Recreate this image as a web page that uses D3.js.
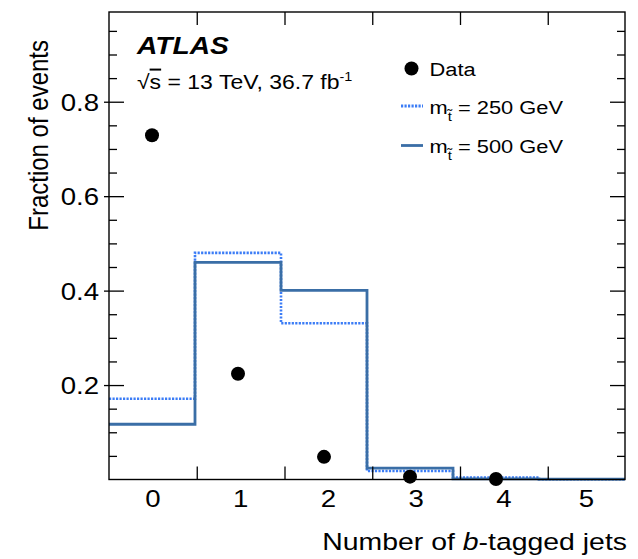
<!DOCTYPE html>
<html><head><meta charset="utf-8">
<script src="https://cdn.jsdelivr.net/npm/d3@7/dist/d3.min.js"></script>
<style>body{margin:0;background:#fff} svg{display:block}</style>
</head><body><svg id="c" width="638" height="559"></svg>
<script>
// ---- data ----
const categories = [0, 1, 2, 3, 4, 5];
const dataX = [0, 1, 2, 3, 4];
const dataFrac = [0.729, 0.224, 0.048, 0.006, 0.001];
const sig250 = [0.171, 0.480, 0.331, 0.018, 0.004, 0.0006];
const sig500 = [0.117, 0.460, 0.4005, 0.024, 0.0015, 0.0008];
const yTickValues = [0.2, 0.4, 0.6, 0.8];
const yTickLabels = ["0.2", "0.4", "0.6", "0.8"];
const xTickLabels = ["0", "1", "2", "3", "4", "5"];
const binEdges = [0.5, 1.5, 2.5, 3.5, 4.5];
const legendLabels = ["Data", "250 GeV", "500 GeV"];

// ---- layout ----
const W = 638, H = 559;
const L = 109, R = 625, T = 12, B = 479.5;
const SX = 1.15;
const FONT = "'Liberation Sans', Arial, Helvetica, sans-serif";
const C250 = "#3b7cf6", C500 = "#3a6ea6";

const svg = d3.select("#c");
const x = d3.scaleLinear().domain([-0.5, 5.5]).range([L, R]);
const xAx = d3.scaleLinear().domain([-0.5, 5.5]).range([L, L + 6 * 87.75]);
const y = d3.scaleLinear().domain([0, 0.99]).range([B, T]);

function stext(parent, px, py, size, anchor, rot) {
  const g = parent.append("g")
    .attr("transform", `translate(${px},${py}) scale(${SX},1)` + (rot ? ` rotate(${rot})` : ""));
  const t = g.append("text").attr("x", 0).attr("y", 0)
    .attr("font-family", FONT).attr("font-size", size)
    .attr("text-anchor", anchor).attr("fill", "#000");
  return {g, t};
}

// ---- histograms ----
function stepPts(vals) {
  const pts = [];
  vals.forEach((v, i) => { pts.push([x(categories[i] - 0.5), y(v)]); pts.push([x(categories[i] + 0.5), y(v)]); });
  return pts;
}
const line = d3.line();
svg.append("path").attr("d", line(stepPts(sig250)))
  .attr("fill", "none").attr("stroke", C250).attr("stroke-width", 2.6)
  .attr("stroke-dasharray", "2.2,1.3");
svg.append("path").attr("d", line(stepPts(sig500)))
  .attr("fill", "none").attr("stroke", C500).attr("stroke-width", 2.8);

// ---- data points ----
svg.selectAll("circle.data").data(dataX).enter().append("circle")
  .attr("class", "data")
  .attr("cx", d => x(d)).attr("cy", (d, i) => y(dataFrac[i]))
  .attr("r", 7).attr("fill", "#000");

// ---- frame and axes ----
svg.append("rect").attr("x", L).attr("y", T).attr("width", R - L).attr("height", B - T)
  .attr("fill", "none").attr("stroke", "#000").attr("stroke-width", 1.4);

const yMinor = d3.range(1, 20).map(k => k * 0.05).filter(v => v < 0.99 && !yTickValues.some(m => Math.abs(m - v) < 1e-6));

// left axis
const gl = svg.append("g").attr("transform", `translate(${L},0)`)
  .call(d3.axisLeft(y).tickValues(yTickValues).tickFormat((d, i) => yTickLabels[i])
    .tickSizeInner(-15).tickSizeOuter(0).tickPadding(9));
gl.select(".domain").remove();
gl.selectAll(".tick line").attr("x1", -5).attr("stroke", "#000").attr("stroke-width", 1.3);
gl.selectAll(".tick text").each(function() {
  const t = d3.select(this);
  const xx = +t.attr("x");
  t.attr("x", 0).attr("dy", null).attr("y", 8.6)
   .attr("transform", `translate(${xx - 1},0) scale(${SX},1)`)
   .attr("font-family", FONT).attr("font-size", 24).attr("fill", "#000");
});
const glm = svg.append("g").attr("transform", `translate(${L},0)`)
  .call(d3.axisLeft(y).tickValues(yMinor).tickFormat("").tickSizeInner(-8).tickSizeOuter(0));
glm.select(".domain").remove();
glm.selectAll(".tick line").attr("stroke", "#000").attr("stroke-width", 1.3);

// right axis (mirror)
const gr = svg.append("g").attr("transform", `translate(${R},0)`)
  .call(d3.axisRight(y).tickValues(yTickValues).tickFormat("").tickSizeInner(-15).tickSizeOuter(0));
gr.select(".domain").remove();
gr.selectAll(".tick line").attr("stroke", "#000").attr("stroke-width", 1.3);
const grm = svg.append("g").attr("transform", `translate(${R},0)`)
  .call(d3.axisRight(y).tickValues(yMinor).tickFormat("").tickSizeInner(-8).tickSizeOuter(0));
grm.select(".domain").remove();
grm.selectAll(".tick line").attr("stroke", "#000").attr("stroke-width", 1.3);

// bottom / top ticks at bin edges
const gb = svg.append("g").attr("transform", `translate(0,${B})`)
  .call(d3.axisBottom(xAx).tickValues(binEdges).tickFormat("").tickSizeInner(-13).tickSizeOuter(0));
gb.select(".domain").remove();
gb.selectAll(".tick line").attr("stroke", "#000").attr("stroke-width", 1.3);
const gt = svg.append("g").attr("transform", `translate(0,${T})`)
  .call(d3.axisTop(xAx).tickValues(binEdges).tickFormat("").tickSizeInner(-13).tickSizeOuter(0));
gt.select(".domain").remove();
gt.selectAll(".tick line").attr("stroke", "#000").attr("stroke-width", 1.3);

// bottom labels at visible bin centres
categories.forEach((c, i) => {
  const lo = Math.max(xAx(c - 0.5), L), hi = Math.min(xAx(c + 0.5), R);
  stext(svg, (lo + hi) / 2, 507, 24, "middle").t.text(xTickLabels[i]);
});

// axis titles
const xt = stext(svg, 627, 550, 24.7, "end").t;
xt.append("tspan").text("Number of ");
xt.append("tspan").attr("font-style", "italic").text("b");
xt.append("tspan").text("-tagged jets");
stext(svg, 48, 40, 24, "end", -90).t.text("Fraction of events");

// ATLAS label
stext(svg, 137, 53.5, 24.5, "start").t.attr("font-weight", "bold").attr("font-style", "italic").text("ATLAS");
const lum = stext(svg, 137, 89, 20, "start").t;
lum.append("tspan").text("\u221A");
lum.append("tspan").attr("text-decoration", "overline").text("s");
lum.append("tspan").text(" = 13 TeV, 36.7 fb");
lum.append("tspan").attr("font-size", 12.5).attr("dy", -8).text("-1");

// ---- legend ----
svg.append("circle").attr("cx", 411.5).attr("cy", 68.5).attr("r", 7).attr("fill", "#000");
stext(svg, 429.5, 76, 19, "start").t.text(legendLabels[0]);

function massEntry(yy, label, color, dashed) {
  const ln = svg.append("line").attr("x1", 401).attr("x2", 423).attr("y1", yy).attr("y2", yy)
    .attr("stroke", color).attr("stroke-width", 2.8);
  if (dashed) ln.attr("stroke-dasharray", "2.2,1.3");
  const o = stext(svg, 429.5, yy + 7.5, 19, "start");
  o.t.append("tspan").text("m");
  o.t.append("tspan").attr("font-size", 13).attr("dy", 7).text("t\u0303");
  o.t.append("tspan").attr("font-size", 19).attr("dy", -7).text(" = " + label);
}
massEntry(106, legendLabels[1], C250, true);
massEntry(145.5, legendLabels[2], C500, false);
</script></body></html>
